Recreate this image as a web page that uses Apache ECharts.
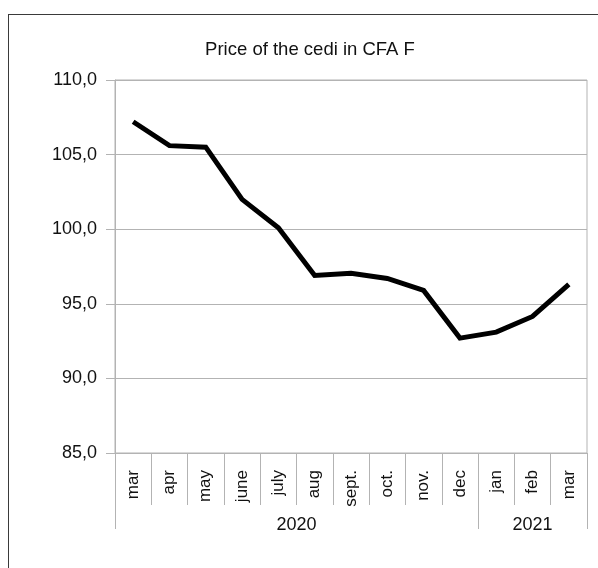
<!DOCTYPE html>
<html>
<head>
<meta charset="utf-8">
<title>Price of the cedi in CFA F</title>
<script src="https://cdn.jsdelivr.net/npm/echarts@6/dist/echarts.min.js"></script>
<style>
  html, body { margin: 0; padding: 0; background: #fff; }
  #frame { position: absolute; left: 8px; top: 14px; width: 600px; height: 600px; border: 1px solid #3a3a3a; box-sizing: border-box; }
  #main { position: absolute; left: 0; top: 0; width: 598px; height: 568px; }
</style>
</head>
<body>
<div id="frame"></div>
<div id="main"></div>
<script>
// months mar 2020 .. mar 2021
var months = ['mar', 'apr', 'may', 'june', 'july', 'aug', 'sept.', 'oct.', 'nov.', 'dec', 'jan', 'feb', 'mar']
var prices = [107.2, 105.6, 105.5, 102.0, 100.1, 96.9, 97.05, 96.7, 95.9, 92.7, 93.1, 94.15, 96.3]
var years = ['2020', '2021']
var yearSpans = [10, 3]   // number of months in each year

// year axis: half-month steps so labels sit in the middle of each group
var yearSlots = []
var yearBounds = [0]
for (var i = 0; i <= months.length * 2; i++) yearSlots.push('')
var pos = 0
for (var k = 0; k < years.length; k++) {
  yearSlots[pos * 2 + yearSpans[k]] = years[k]
  pos += yearSpans[k]
  yearBounds.push(pos * 2)
}

var font = '"Liberation Sans", Arial, sans-serif'
var grey = '#b3b3b3'

var chart = echarts.init(document.getElementById('main'), null, { renderer: 'canvas' })

var option = {
  animation: false,
  title: {
    text: 'Price of the cedi in CFA F',
    left: 305,
    textAlign: 'center',
    top: 35,
    textStyle: { fontFamily: font, fontSize: 18.5, fontWeight: 'normal', color: '#111' }
  },
  grid: {
    left: 115,
    right: 11,
    top: 80,
    bottom: 115,
    show: true,
    borderColor: grey,
    borderWidth: 1
  },
  xAxis: [{
    type: 'category',
    data: months,
    position: 'bottom',
    axisLine: { lineStyle: { color: grey, width: 1 } },
    axisTick: { show: true, interval: 0, length: 52, lineStyle: { color: grey } },
    axisLabel: {
      interval: 0,
      rotate: 90,
      margin: 17,
      fontFamily: font,
      fontSize: 17,
      color: '#111'
    },
    splitLine: { show: false }
  }, {
    type: 'category',
    data: yearSlots,
    position: 'bottom',
    boundaryGap: false,
    axisLine: { show: false },
    axisTick: {
      show: true,
      length: 76,
      interval: function (idx) { return yearBounds.indexOf(idx) >= 0 },
      lineStyle: { color: grey }
    },
    axisLabel: {
      interval: 0,
      margin: 63,
      fontFamily: font,
      fontSize: 18,
      color: '#111'
    },
    splitLine: { show: false }
  }],
  yAxis: {
    type: 'value',
    min: 85,
    max: 110,
    interval: 5,
    axisLine: { show: true, lineStyle: { color: grey } },
    axisTick: { show: true, length: 9, lineStyle: { color: grey } },
    axisLabel: {
      margin: 18,
      fontFamily: font,
      fontSize: 18,
      color: '#111',
      formatter: function (v) { return v.toFixed(1).replace('.', ',') }
    },
    splitLine: { show: true, lineStyle: { color: grey, width: 1 } }
  },
  series: [{
    type: 'line',
    data: prices,
    xAxisIndex: 0,
    showSymbol: false,
    symbol: 'none',
    lineStyle: { color: '#000', width: 5, join: 'miter' }
  }]
}

chart.setOption(option)
</script>
</body>
</html>
